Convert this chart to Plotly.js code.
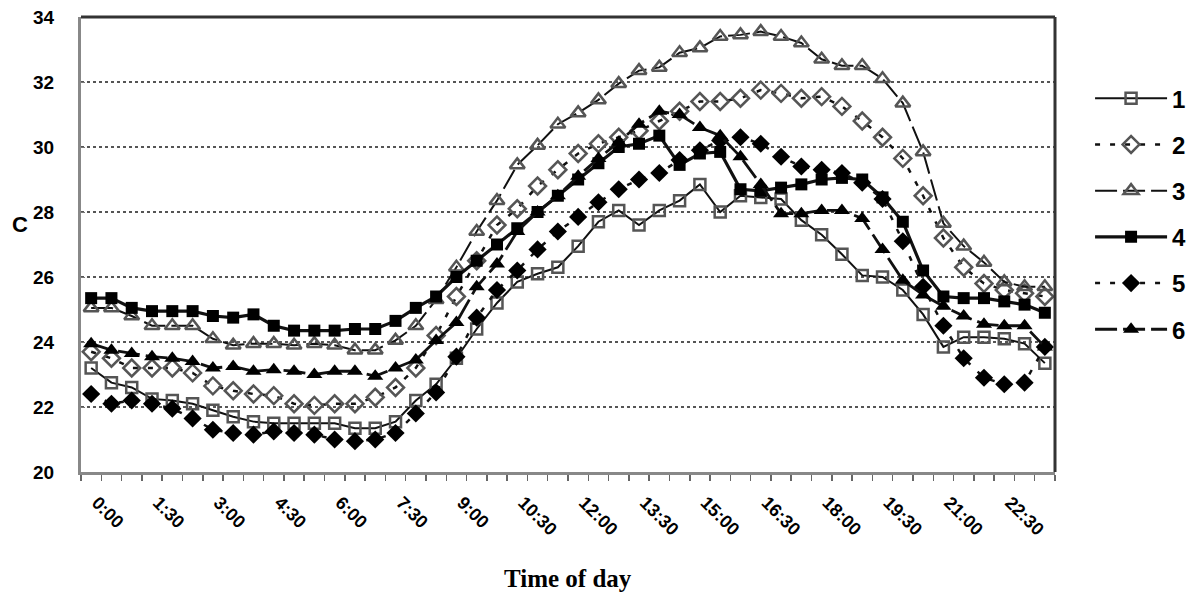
<!DOCTYPE html>
<html>
<head>
<meta charset="utf-8">
<script src="https://cdn.plot.ly/plotly-3.0.1.min.js"></script>
<style>html,body{margin:0;padding:0;background:#fff;}#chart{width:1203px;height:596px;}</style>
</head>
<body>
<div id="chart"></div>
<script>
const times = ["0:00","0:30","1:00","1:30","2:00","2:30","3:00","3:30","4:00","4:30","5:00","5:30",
  "6:00","6:30","7:00","7:30","8:00","8:30","9:00","9:30","10:00","10:30","11:00","11:30",
  "12:00","12:30","13:00","13:30","14:00","14:30","15:00","15:30","16:00","16:30","17:00","17:30",
  "18:00","18:30","19:00","19:30","20:00","20:30","21:00","21:30","22:00","22:30","23:00","23:30"];
const tickText = ["0:00","","","1:30","","","3:00","","","4:30","","",
  "6:00","","","7:30","","","9:00","","","10:30","","",
  "12:00","","","13:30","","","15:00","","","16:30","","",
  "18:00","","","19:30","","","21:00","","","22:30","",""];
const yTicks = [20,22,24,26,28,30,32,34];

const s1 = [23.2,22.75,22.6,22.25,22.2,22.1,21.9,21.7,21.55,21.5,21.5,21.5,21.5,21.35,21.35,21.55,
  22.2,22.7,23.5,24.4,25.2,25.85,26.1,26.3,26.95,27.7,28.05,27.6,28.05,28.35,28.85,28.0,
  28.5,28.45,28.4,27.75,27.3,26.7,26.05,26.0,25.6,24.85,23.85,24.15,24.15,24.1,23.95,23.35];
const s2 = [23.7,23.5,23.2,23.2,23.2,23.05,22.65,22.5,22.4,22.35,22.1,22.05,22.1,22.1,22.3,22.6,
  23.2,24.2,25.4,26.5,27.6,28.1,28.8,29.3,29.8,30.1,30.3,30.5,30.8,31.1,31.4,31.4,
  31.5,31.75,31.65,31.5,31.55,31.25,30.8,30.3,29.65,28.5,27.2,26.3,25.8,25.6,25.5,25.4];
const s3 = [25.05,25.05,24.8,24.5,24.5,24.5,24.1,23.9,23.95,23.95,23.9,23.95,23.9,23.75,23.75,24.05,
  24.5,25.3,26.3,27.4,28.35,29.45,30.05,30.7,31.05,31.45,31.95,32.35,32.45,32.9,33.05,33.4,
  33.45,33.55,33.4,33.2,32.7,32.5,32.5,32.1,31.35,29.85,27.65,26.95,26.45,25.85,25.7,25.7];
const s4 = [25.35,25.35,25.05,24.95,24.95,24.95,24.8,24.75,24.85,24.5,24.35,24.35,24.35,24.4,24.4,24.65,
  25.05,25.4,26.0,26.5,27.0,27.5,28.0,28.5,29.0,29.5,30.0,30.1,30.35,29.45,29.8,29.85,
  28.7,28.65,28.75,28.85,29.0,29.05,29.0,28.45,27.7,26.2,25.4,25.35,25.35,25.25,25.15,24.9];
const s5 = [22.4,22.1,22.2,22.1,21.95,21.65,21.3,21.2,21.15,21.25,21.2,21.15,21.0,20.95,21.0,21.2,
  21.8,22.45,23.55,24.75,25.6,26.2,26.85,27.4,27.85,28.3,28.7,29.0,29.2,29.6,29.9,30.2,
  30.3,30.1,29.7,29.4,29.3,29.2,28.9,28.4,27.1,25.7,24.5,23.5,22.9,22.7,22.75,23.85];
const s6 = [23.95,23.75,23.65,23.55,23.5,23.4,23.2,23.25,23.1,23.15,23.1,23.0,23.1,23.1,22.95,23.2,
  23.45,24.05,24.6,25.7,26.4,27.4,28.0,28.5,29.1,29.65,30.15,30.7,31.1,31.0,30.6,30.35,
  29.7,28.85,27.95,27.95,28.05,28.05,27.8,26.85,25.9,25.45,25.1,24.8,24.55,24.5,24.5,23.85];

const seriesNames = ["1","2","3","4","5","6"];
const seriesData = [s1,s2,s3,s4,s5,s6];
const styles = [
  {line:{color:'#111',width:2,dash:'solid'}, marker:{symbol:'square-open',size:11,color:'#555',line:{width:2.5}}},
  {line:{color:'#111',width:2.5,dash:'5px,10px'}, marker:{symbol:'diamond-open',size:13,color:'#555',line:{width:2.5}}},
  {line:{color:'#111',width:2,dash:'22px,6px'}, marker:{symbol:'triangle-up-open',size:13,color:'#555',line:{width:2.5}}},
  {line:{color:'#111',width:3.2,dash:'solid'}, marker:{symbol:'square',size:12,color:'#000'}},
  {line:{color:'#111',width:2.5,dash:'5px,10px'}, marker:{symbol:'diamond',size:14,color:'#000'}},
  {line:{color:'#111',width:2.8,dash:'22px,6px'}, marker:{symbol:'triangle-up',size:14,color:'#000'}}
];

const traces = seriesData.map((d,k)=>({
  type:'scatter', mode:'lines+markers', x:times, y:d, name:seriesNames[k],
  legendgroup:'g'+k, line:styles[k].line, marker:styles[k].marker
}));

const layout = {
  width:1203, height:596,
  margin:{l:81,r:145,t:17,b:124},
  paper_bgcolor:'#fff', plot_bgcolor:'#fff',
  font:{family:'Arial, Liberation Sans, sans-serif', color:'#000'},
  showlegend:true,
  legend:{x:1.036,y:0.87,xanchor:'left',yanchor:'top',itemwidth:72,tracegroupgap:12,
    font:{family:'Arial, Liberation Sans, sans-serif',size:24,color:'#000',weight:'bold'}},
  xaxis:{type:'category', tickvals:times, ticktext:tickText, tickson:'boundaries',
    ticks:'outside', ticklen:6, tickwidth:1.5, tickcolor:'#666', tickangle:45,
    ticklabelstandoff:10, ticklabelshift:6,
    tickfont:{family:'Arial, Liberation Sans, sans-serif',size:18,weight:'bold'},
    showline:true, linecolor:'#888', linewidth:3, showgrid:false, zeroline:false,
    range:[-0.5,47.5], fixedrange:true},
  yaxis:{range:[20,34], tickvals:yTicks, ticks:'inside', ticklen:4, tickcolor:'#777',
    tickfont:{family:'Arial, Liberation Sans, sans-serif',size:19,weight:'bold'},
    showline:true, linecolor:'#888', linewidth:3, showgrid:true, gridcolor:'#555',
    gridwidth:2, griddash:'dot', zeroline:false, ticklabelstandoff:20},
  shapes:[
    {type:'line',xref:'paper',yref:'paper',x0:0,x1:1,y0:1,y1:1,line:{color:'#333',width:3}},
    {type:'line',xref:'paper',yref:'paper',x0:1,x1:1,y0:0,y1:1,line:{color:'#333',width:3}}
  ],
  annotations:[
    {text:'C',xref:'paper',yref:'paper',x:-0.063,y:0.545,xanchor:'center',yanchor:'middle',showarrow:false,
      font:{family:'Arial, Liberation Sans, sans-serif',size:22,weight:'bold'}},
    {text:'Time of day',xref:'paper',yref:'paper',x:0.5,y:-0.233,xanchor:'center',yanchor:'middle',showarrow:false,
      font:{family:'Liberation Serif, Times New Roman, serif',size:25,weight:'bold'}}
  ]
};
Plotly.newPlot('chart', traces, layout, {displayModeBar:false, staticPlot:true});
</script>
</body>
</html>
